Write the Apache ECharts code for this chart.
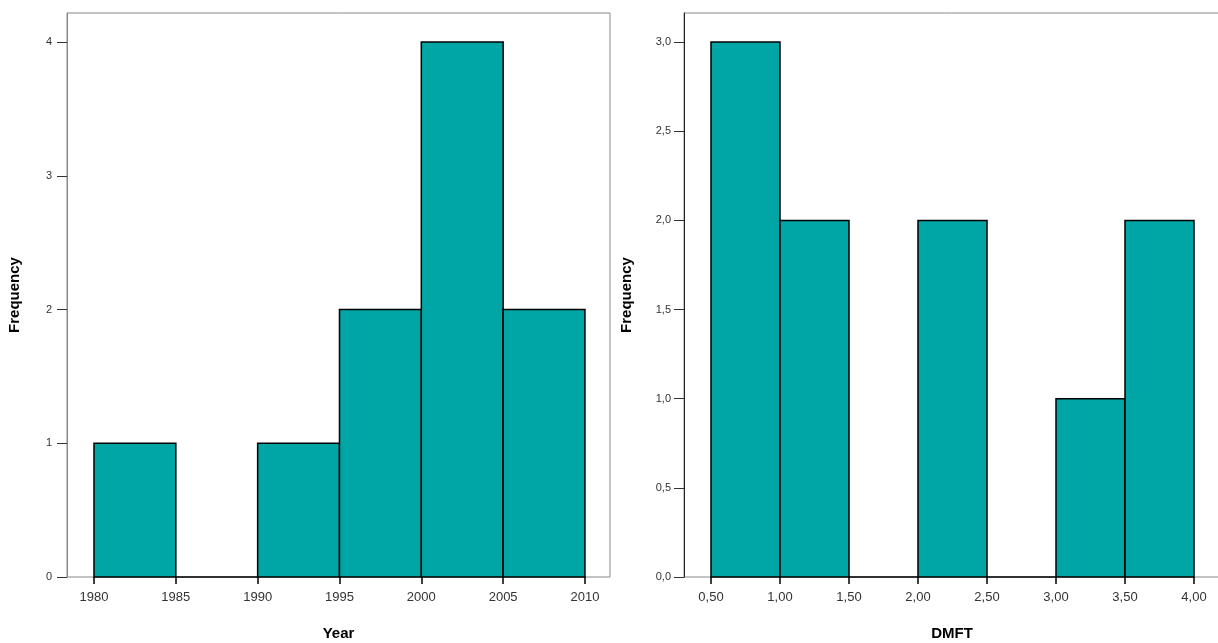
<!DOCTYPE html>
<html>
<head>
<meta charset="UTF-8">
<title>Histograms</title>
<script src="https://cdn.jsdelivr.net/npm/echarts@6/dist/echarts.min.js"></script>
<style>html,body{margin:0;padding:0;background:#fff}#main{width:1218px;height:643px}</style>
</head>
<body>
<div id="main"></div>
<script>
// bins: [start, end], frequency
var yearBins = [[1980,1985],[1985,1990],[1990,1995],[1995,2000],[2000,2005],[2005,2010]];
var yearFreq = [1, 0, 1, 2, 4, 2];
var yearTicks = [1980,1985,1990,1995,2000,2005,2010];
var yearYTicks = [0,1,2,3,4];

var dmftBins = [[0.5,1],[1,1.5],[1.5,2],[2,2.5],[2.5,3],[3,3.5],[3.5,4]];
var dmftFreq = [3, 2, 0, 2, 0, 1, 2];
var dmftTicks = [0.5,1,1.5,2,2.5,3,3.5,4];
var dmftYTicks = [0,0.5,1,1.5,2,2.5,3];

var fill = '#00A6A6';
var font = 'Liberation Sans, Arial, sans-serif';

function comma(v, d){ return v.toFixed(d).replace('.', ','); }

function renderBin(params, api){
  var a = api.coord([api.value(0), api.value(2)]);
  var b = api.coord([api.value(1), 0]);
  return {type:'rect', shape:{x:a[0], y:a[1], width:b[0]-a[0], height:b[1]-a[1]},
    style:{fill:fill, stroke:'#000', lineWidth:1.5}};
}

function xAxis(idx, min, max, ticks, fmt, name){
  return {type:'value', gridIndex:idx, min:min, max:max, name:name, nameLocation:'middle', nameGap:49,
    nameTextStyle:{fontFamily:font, fontWeight:'bold', fontSize:15, color:'#000'},
    axisLine:{show:false}, splitLine:{show:false},
    axisTick:{show:true, length:7, customValues:ticks, lineStyle:{color:'#000', width:1.5}},
    axisLabel:{customValues:ticks, formatter:fmt, margin:14, fontFamily:font, fontSize:13, color:'#333'}};
}
function yAxis(idx, min, max, ticks, fmt, margin, gap, lineColor){
  return {type:'value', gridIndex:idx, min:min, max:max, name:'Frequency', nameLocation:'middle', nameGap:gap,
    nameTextStyle:{fontFamily:font, fontWeight:'bold', fontSize:15, color:'#000'},
    axisLine:{show:true, lineStyle:{color:lineColor}}, splitLine:{show:false},
    axisTick:{show:true, length:10, customValues:ticks, lineStyle:{color:'#333'}},
    axisLabel:{customValues:ticks, formatter:fmt, margin:margin, fontFamily:font, fontSize:11, color:'#333'}};
}

var chart = echarts.init(document.getElementById('main'));
chart.setOption({
  animation:false,
  grid:[
    {left:67, right:608, top:13, bottom:66, show:true, borderColor:'#888', borderWidth:1, outerBoundsMode:'none'},
    {left:684, right:-2, top:13, bottom:66, show:true, borderColor:'#888', borderWidth:1, outerBoundsMode:'none'}
  ],
  xAxis:[
    xAxis(0, 1978.35, 2011.53, yearTicks, function(v){return String(Math.round(v));}, 'Year'),
    xAxis(1, 0.3043, 4.1884, dmftTicks, function(v){return comma(v,2);}, 'DMFT')
  ],
  yAxis:[
    yAxis(0, 0, 4.217, yearYTicks, function(v){return String(Math.round(v));}, 15, 45, '#888'),
    yAxis(1, 0, 3.163, dmftYTicks, function(v){return comma(v,1);}, 13, 50, '#222')
  ],
  series:[
    {type:'custom', xAxisIndex:0, yAxisIndex:0, renderItem:renderBin,
      data:yearBins.map(function(b,i){return [b[0], b[1], yearFreq[i]];})},
    {type:'custom', xAxisIndex:1, yAxisIndex:1, renderItem:renderBin,
      data:dmftBins.map(function(b,i){return [b[0], b[1], dmftFreq[i]];})}
  ]
});
</script>
</body>
</html>
